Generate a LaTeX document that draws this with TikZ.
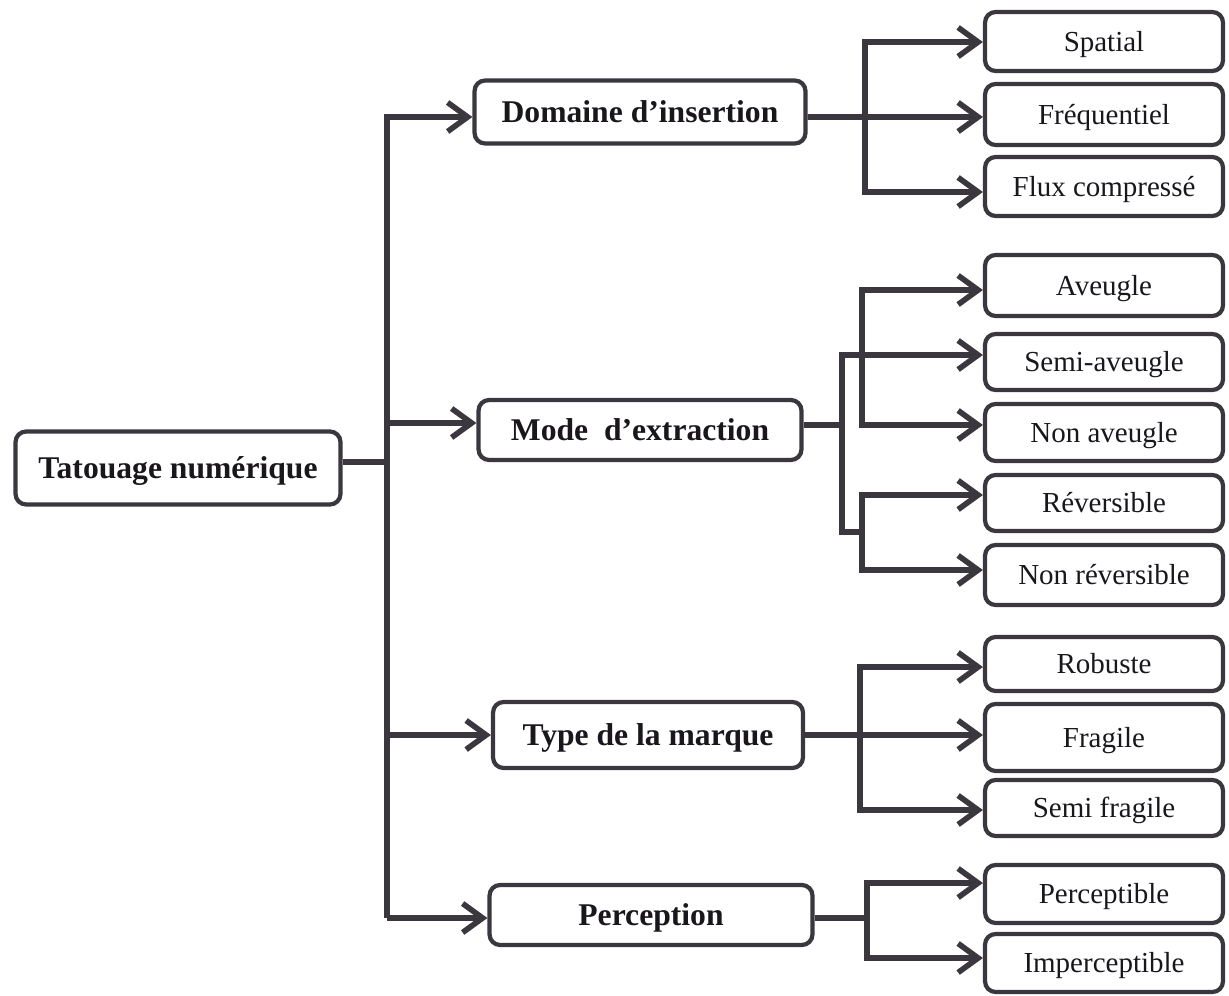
\documentclass[tikz,border=0pt]{standalone}
\usepackage{fontspec}
\setmainfont{Liberation Serif}
\usetikzlibrary{arrows.meta,calc}
\definecolor{linec}{RGB}{58,56,62}
\definecolor{textc}{RGB}{25,23,28}
\begin{document}
\begin{tikzpicture}[x=0.02cm,y=-0.02cm,
  box/.style={draw=linec,line width=2.4pt,rounded corners=6pt,fill=white,
    inner sep=0pt,text=textc,text depth=0pt},
  mainbox/.style={box,font=\fontsize{18}{20}\selectfont\bfseries,text height=11.9pt},
  leafbox/.style={box,font=\fontsize{16.5}{19}\selectfont,text height=10.9pt,
    minimum width=4.76cm},
  conn/.style={draw=linec,line width=3.2pt},
  arr/.style={conn,-{Straight Barb[length=0.4cm,width=0.58cm]}}]
\useasboundingbox (0,0) rectangle (1229,996);

% root and first level
\node[mainbox,minimum width=6.5cm,minimum height=1.46cm] (tat) at (178,468) {Tatouage numérique};
\node[mainbox,minimum width=6.62cm,minimum height=1.26cm] (dom) at (640,112) {Domaine d’insertion};
\node[mainbox,minimum width=6.46cm,minimum height=1.2cm] (mode) at (640,430) {Mode\ \ d’extraction};
\node[mainbox,minimum width=6.2cm,minimum height=1.32cm] (type) at (648,735) {Type de la marque};
\node[mainbox,minimum width=6.46cm,minimum height=1.2cm] (perc) at (651,915) {Perception};

% leaves
\node[leafbox,minimum height=1.18cm] (spatial) at (1104,41.5) {Spatial};
\node[leafbox,minimum height=1.22cm] (freq) at (1104,114.5) {Fréquentiel};
\node[leafbox,minimum height=1.18cm] (flux) at (1104,186.5) {Flux compressé};
\node[leafbox,minimum height=1.22cm] (aveugle) at (1104,285.5) {Aveugle};
\node[leafbox,minimum height=1.12cm] (semiav) at (1104,362) {Semi-aveugle};
\node[leafbox,minimum height=1.14cm] (nonav) at (1104,432.5) {Non aveugle};
\node[leafbox,minimum height=1.12cm] (rev) at (1104,503) {Réversible};
\node[leafbox,minimum height=1.2cm] (nonrev) at (1104,575) {Non réversible};
\node[leafbox,minimum height=1.08cm] (robuste) at (1104,664) {Robuste};
\node[leafbox,minimum height=1.34cm] (fragile) at (1104,737.5) {Fragile};
\node[leafbox,minimum height=1.12cm] (semifrag) at (1104,808) {Semi fragile};
\node[leafbox,minimum height=1.16cm] (percept) at (1104,894) {Perceptible};
\node[leafbox,minimum height=1.16cm] (impercept) at (1104,963) {Imperceptible};

% arrow end points on the boxes
\coordinate (tatO) at ($(tat.east)+(0,-6)$);
\coordinate (domI) at ($(dom.west)+(0,5)$);
\coordinate (domO) at ($(dom.east)+(0,5)$);
\coordinate (modeI) at ($(mode.west)+(0,-7)$);
\coordinate (modeO) at ($(mode.east)+(0,-5)$);
\coordinate (typeI) at (type.west);
\coordinate (typeO) at (type.east);
\coordinate (percI) at ($(perc.west)+(0,3)$);
\coordinate (percO) at ($(perc.east)+(0,3)$);
\coordinate (spI) at ($(spatial.west)+(0,0.5)$);
\coordinate (frI) at ($(freq.west)+(0,2.5)$);
\coordinate (flI) at ($(flux.west)+(0,5.5)$);
\coordinate (avI) at ($(aveugle.west)+(0,4.5)$);
\coordinate (saI) at ($(semiav.west)+(0,-7)$);
\coordinate (naI) at ($(nonav.west)+(0,-7.5)$);
\coordinate (rvI) at ($(rev.west)+(0,-8)$);
\coordinate (nrI) at ($(nonrev.west)+(0,-5)$);
\coordinate (roI) at ($(robuste.west)+(0,3)$);
\coordinate (fgI) at ($(fragile.west)+(0,-2.5)$);
\coordinate (sfI) at ($(semifrag.west)+(0,2)$);
\coordinate (peI) at ($(percept.west)+(0,-11)$);
\coordinate (imI) at ($(impercept.west)+(0,-5)$);

% bracket spines
\coordinate (trunk) at (387,918);
\coordinate (dj) at (865,0);
\coordinate (mj) at (842,532);
\coordinate (mk) at (862,0);
\coordinate (tj) at (860,0);
\coordinate (pj) at (867,0);

% root to first level
\draw[conn] (tatO) -- (trunk |- tatO);
\draw[arr] (trunk) |- (domI);
\draw[arr] (trunk |- modeI) -- (modeI);
\draw[arr] (trunk |- typeI) -- (typeI);
\draw[arr] (trunk) -- (percI);

% Domaine d'insertion
\draw[arr] (domO) -- (frI);
\draw[arr] (dj |- flI) |- (spI);
\draw[arr] (dj |- spI) |- (flI);

% Mode d'extraction
\draw[conn] (modeO) -- (mj |- modeO);
\draw[arr] (mk |- mj) -- (mj) |- (saI);
\draw[arr] (mk |- naI) |- (avI);
\draw[arr] (mk |- avI) |- (naI);
\draw[arr] (mk |- nrI) |- (rvI);
\draw[arr] (mk |- rvI) |- (nrI);

% Type de la marque
\draw[arr] (typeO) -- (fgI);
\draw[arr] (tj |- sfI) |- (roI);
\draw[arr] (tj |- roI) |- (sfI);

% Perception
\draw[conn] (percO) -- (pj |- percO);
\draw[arr] (pj |- imI) |- (peI);
\draw[arr] (pj |- peI) |- (imI);
\end{tikzpicture}
\end{document}
